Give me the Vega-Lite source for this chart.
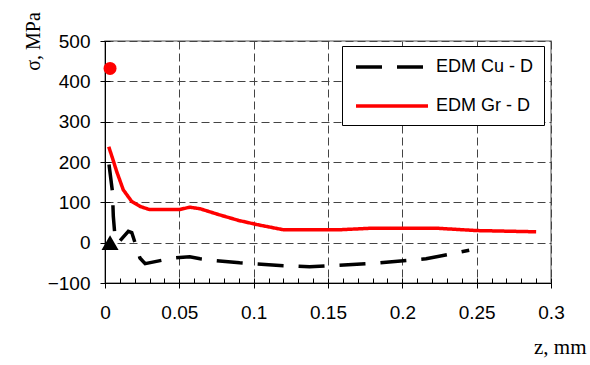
{
  "$schema": "https://vega.github.io/schema/vega-lite/v6.json",
  "width": 446,
  "height": 242,
  "autosize": "none",
  "padding": {"left": 105, "top": 41, "right": 39, "bottom": 82},
  "background": "white",
  "config": {
    "view": {"stroke": "#8c8c8c", "strokeWidth": 1.5},
    "font": "Liberation Sans",
    "legend": {
      "orient": "none",
      "legendX": 237,
      "legendY": 5,
      "padding": 10,
      "strokeColor": "black",
      "fillColor": "white",
      "symbolType": "M-4,0H4",
      "symbolSize": 324,
      "symbolStrokeWidth": 3.5,
      "labelFontSize": 18,
      "labelFont": "Liberation Sans",
      "labelColor": "black",
      "labelOffset": 33,
      "rowPadding": 19,
      "symbolOffset": 29,
      "cornerRadius": 0
    }
  },
  "datasets": {
    "lines": [
      {"series": "EDM Cu - D", "z": 0.0027, "sigma": 194},
      {"series": "EDM Cu - D", "z": 0.005, "sigma": 127},
      {"series": "EDM Cu - D", "z": 0.0056, "sigma": 65},
      {"series": "EDM Cu - D", "z": 0.0067, "sigma": 16},
      {"series": "EDM Cu - D", "z": 0.009, "sigma": 0},
      {"series": "EDM Cu - D", "z": 0.0157, "sigma": 28},
      {"series": "EDM Cu - D", "z": 0.018, "sigma": 25},
      {"series": "EDM Cu - D", "z": 0.0235, "sigma": -38},
      {"series": "EDM Cu - D", "z": 0.027, "sigma": -52},
      {"series": "EDM Cu - D", "z": 0.046, "sigma": -38},
      {"series": "EDM Cu - D", "z": 0.057, "sigma": -35},
      {"series": "EDM Cu - D", "z": 0.064, "sigma": -40},
      {"series": "EDM Cu - D", "z": 0.075, "sigma": -45},
      {"series": "EDM Cu - D", "z": 0.0906, "sigma": -50},
      {"series": "EDM Cu - D", "z": 0.12, "sigma": -57},
      {"series": "EDM Cu - D", "z": 0.1376, "sigma": -60},
      {"series": "EDM Cu - D", "z": 0.1846, "sigma": -50},
      {"series": "EDM Cu - D", "z": 0.216, "sigma": -40},
      {"series": "EDM Cu - D", "z": 0.245, "sigma": -19},
      {"series": "EDM Gr - D", "z": 0.0025, "sigma": 238},
      {"series": "EDM Gr - D", "z": 0.005, "sigma": 210},
      {"series": "EDM Gr - D", "z": 0.0078, "sigma": 177},
      {"series": "EDM Gr - D", "z": 0.0123, "sigma": 131},
      {"series": "EDM Gr - D", "z": 0.018, "sigma": 102},
      {"series": "EDM Gr - D", "z": 0.0235, "sigma": 90},
      {"series": "EDM Gr - D", "z": 0.03, "sigma": 82},
      {"series": "EDM Gr - D", "z": 0.05, "sigma": 82},
      {"series": "EDM Gr - D", "z": 0.057, "sigma": 88},
      {"series": "EDM Gr - D", "z": 0.064, "sigma": 84},
      {"series": "EDM Gr - D", "z": 0.077, "sigma": 69},
      {"series": "EDM Gr - D", "z": 0.09, "sigma": 55},
      {"series": "EDM Gr - D", "z": 0.102, "sigma": 45},
      {"series": "EDM Gr - D", "z": 0.12, "sigma": 32},
      {"series": "EDM Gr - D", "z": 0.158, "sigma": 32},
      {"series": "EDM Gr - D", "z": 0.18, "sigma": 36},
      {"series": "EDM Gr - D", "z": 0.222, "sigma": 36},
      {"series": "EDM Gr - D", "z": 0.25, "sigma": 30},
      {"series": "EDM Gr - D", "z": 0.29, "sigma": 27}
    ],
    "markers": [
      {"kind": "circle", "z": 0.0034, "sigma": 432},
      {"kind": "triangle", "z": 0.0034, "sigma": 0}
    ]
  },
  "resolve": {"axis": {"x": "independent", "y": "independent"}},
  "layer": [
    {
      "data": {"name": "lines"},
      "mark": {"type": "line", "strokeWidth": 3.5},
      "encoding": {
        "x": {
          "field": "z",
          "type": "quantitative",
          "scale": {"domain": [0, 0.3], "nice": false, "zero": false},
          "axis": {
            "orient": "bottom",
            "values": [0, 0.05, 0.1, 0.15, 0.2, 0.25, 0.3],
            "format": "~g",
            "labelFontSize": 19,
            "labelFont": "Liberation Sans",
            "labelColor": "black",
            "labelPadding": 15,
            "labelFlush": false,
            "tickSize": 5,
            "tickColor": "black",
            "domainColor": "black",
            "grid": true,
            "gridColor": "#444444",
            "gridDash": [8, 4],
            "gridWidth": 1,
            "title": "z, mm",
            "titleFont": "Liberation Serif",
            "titleFontSize": 21,
            "titleFontWeight": "normal",
            "titleColor": "black",
            "titleX": 481,
            "titleY": 70,
            "titleAlign": "right",
            "titleBaseline": "alphabetic"
          }
        },
        "y": {
          "field": "sigma",
          "type": "quantitative",
          "scale": {"domain": [-100, 500], "nice": false},
          "axis": {
            "orient": "left",
            "values": [-100, 0, 100, 200, 300, 400, 500],
            "labelFontSize": 19,
            "labelFont": "Liberation Sans",
            "labelColor": "black",
            "labelPadding": 10,
            "tickSize": 5,
            "tickColor": "black",
            "domainColor": "black",
            "grid": true,
            "gridColor": "#444444",
            "gridDash": [8, 4],
            "gridWidth": 1,
            "title": "σ, MPa",
            "titleFont": "Liberation Serif",
            "titleFontSize": 20,
            "titleFontWeight": "normal",
            "titleColor": "black",
            "titleX": -72,
            "titleY": 0,
            "titleAngle": -90,
            "titleAlign": "center",
            "titleBaseline": "middle"
          }
        },
        "color": {
          "field": "series",
          "type": "nominal",
          "scale": {"domain": ["EDM Cu - D", "EDM Gr - D"], "range": ["#000000", "#ff0000"]},
          "legend": {"title": null}
        },
        "strokeDash": {
          "field": "series",
          "type": "nominal",
          "scale": {"domain": ["EDM Cu - D", "EDM Gr - D"], "range": [[26, 15], [1, 0]]},
          "legend": {"title": null}
        }
      }
    },
    {
      "data": {"name": "markers"},
      "transform": [{"filter": "datum.kind === 'circle'"}],
      "mark": {"type": "point", "shape": "circle", "filled": true, "color": "#ff0000", "size": 169, "opacity": 1},
      "encoding": {
        "x": {
          "field": "z",
          "type": "quantitative",
          "scale": {"domain": [0, 0.3], "nice": false, "zero": false},
          "axis": {
            "orient": "bottom",
            "values": [0, 0.01, 0.02, 0.03, 0.04, 0.05, 0.06, 0.07, 0.08, 0.09, 0.1, 0.11, 0.12, 0.13, 0.14, 0.15, 0.16, 0.17, 0.18, 0.19, 0.2, 0.21, 0.22, 0.23, 0.24, 0.25, 0.26, 0.27, 0.28, 0.29, 0.3],
            "labels": false,
            "domain": false,
            "grid": false,
            "tickSize": -5,
            "tickColor": "black",
            "tickWidth": 1,
            "title": null
          }
        },
        "y": {
          "field": "sigma",
          "type": "quantitative",
          "scale": {"domain": [-100, 500], "nice": false},
          "axis": {
            "orient": "left",
            "values": [-100, 0, 100, 200, 300, 400, 500],
            "labels": false,
            "domain": false,
            "grid": false,
            "tickSize": -5,
            "tickColor": "black",
            "title": null
          }
        }
      }
    },
    {
      "data": {"name": "markers"},
      "transform": [{"filter": "datum.kind === 'triangle'"}],
      "mark": {"type": "point", "shape": "triangle-up", "filled": true, "color": "#000000", "size": 289, "opacity": 1},
      "encoding": {
        "x": {
          "field": "z",
          "type": "quantitative",
          "scale": {"domain": [0, 0.3], "nice": false, "zero": false},
          "axis": null
        },
        "y": {
          "field": "sigma",
          "type": "quantitative",
          "scale": {"domain": [-100, 500], "nice": false},
          "axis": null
        }
      }
    }
  ]
}
